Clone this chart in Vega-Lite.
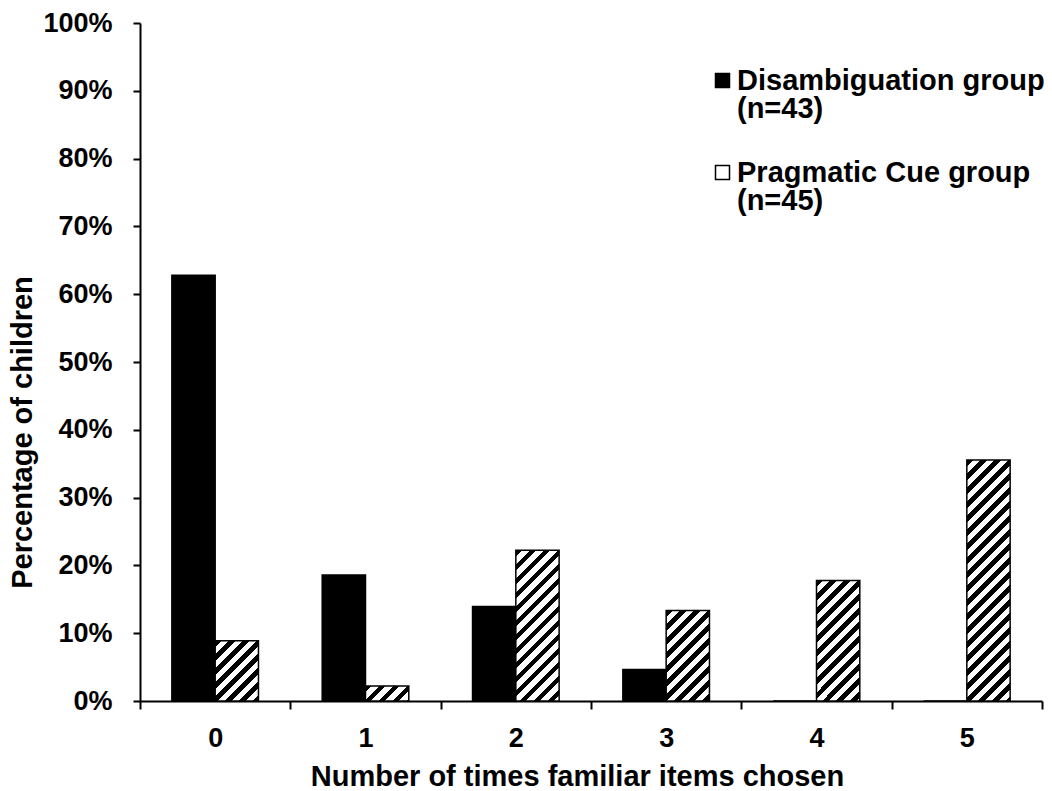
{
  "$schema": "https://vega.github.io/schema/vega-lite/v6.json",
  "width": 902,
  "height": 678,
  "autosize": {"type": "none"},
  "padding": {"left": 140, "top": 23, "right": 10, "bottom": 90},
  "background": "white",
  "config": {"view": {"stroke": null}, "font": "Liberation Sans"},
  "data": {
    "values": [
      {"times": 0, "group": "Disambiguation group (n=43)", "pct": 0.6279},
      {"times": 1, "group": "Disambiguation group (n=43)", "pct": 0.186},
      {"times": 2, "group": "Disambiguation group (n=43)", "pct": 0.1395},
      {"times": 3, "group": "Disambiguation group (n=43)", "pct": 0.0465},
      {"times": 4, "group": "Disambiguation group (n=43)", "pct": 0},
      {"times": 5, "group": "Disambiguation group (n=43)", "pct": 0},
      {"times": 0, "group": "Pragmatic Cue group (n=45)", "pct": 0.0889},
      {"times": 1, "group": "Pragmatic Cue group (n=45)", "pct": 0.0222},
      {"times": 2, "group": "Pragmatic Cue group (n=45)", "pct": 0.2222},
      {"times": 3, "group": "Pragmatic Cue group (n=45)", "pct": 0.1333},
      {"times": 4, "group": "Pragmatic Cue group (n=45)", "pct": 0.1778},
      {"times": 5, "group": "Pragmatic Cue group (n=45)", "pct": 0.3556}
    ]
  },
  "mark": {"type": "bar", "stroke": "#000", "strokeWidth": 1.5},
  "encoding": {
    "x": {
      "field": "times",
      "type": "ordinal",
      "scale": {"paddingInner": 0, "paddingOuter": 0},
      "axis": {
        "labelAngle": 0,
        "labelFontSize": 27,
        "labelFontWeight": "bold",
        "labelColor": "#000",
        "labelPadding": 16,
        "tickBand": "extent",
        "tickSize": 8,
        "tickWidth": 2,
        "tickColor": "#000",
        "domainColor": "#000",
        "domainWidth": 2,
        "title": "Number of times familiar items chosen",
        "titleFontSize": 29,
        "titleFontWeight": "bold",
        "titleColor": "#000",
        "titleX": 437,
        "titleY": 84,
        "titleBaseline": "alphabetic",
        "titleAlign": "center"
      }
    },
    "xOffset": {
      "field": "group",
      "type": "nominal",
      "scale": {"paddingInner": 0, "paddingOuter": 0.736}
    },
    "y": {
      "field": "pct",
      "type": "quantitative",
      "scale": {"domain": [0, 1]},
      "axis": {
        "format": ".0%",
        "tickCount": 10,
        "grid": false,
        "labelFontSize": 27,
        "labelFontWeight": "bold",
        "labelColor": "#000",
        "labelPadding": 21,
        "tickSize": 7,
        "tickWidth": 2,
        "tickColor": "#000",
        "domainColor": "#000",
        "domainWidth": 2,
        "title": "Percentage of children",
        "titleFontSize": 29,
        "titleFontWeight": "bold",
        "titleColor": "#000",
        "titleAngle": -90,
        "titleX": -109,
        "titleY": 409,
        "titleBaseline": "alphabetic",
        "titleAlign": "center"
      }
    },
    "fill": {
      "field": "group",
      "type": "nominal",
      "scale": {"range": ["#000000", "#ffffff"]},
      "legend": {
        "title": null,
        "orient": "none",
        "legendX": 568,
        "legendY": 43,
        "symbolType": "square",
        "symbolSize": 196,
        "symbolStrokeColor": "#000",
        "symbolStrokeWidth": 1.5,
        "symbolOpacity": 1,
        "labelFontSize": 29,
        "labelFontWeight": "bold",
        "labelColor": "#000",
        "labelLimit": 0,
        "labelOffset": 0,
        "rowPadding": 34,
        "labelExpr": "[substring(datum.label, 0, indexof(datum.label, ' (')), substring(datum.label, indexof(datum.label, ' (') + 1)]",
        "encode": {
          "labels": {"update": {"lineHeight": {"value": 28}}},
          "symbols": {
            "update": {
              "stroke": {"value": "#000"},
              "strokeWidth": {"value": 1.5}
            }
          }
        }
      },
      "condition": [
        {"test": "datum.group == 'Pragmatic Cue group (n=45)' && datum.times == 0", "value": {"gradient": "linear", "x1": 0, "y1": 0, "x2": 2.7505, "y2": 3.8278, "stops": [
          {"offset":0,"color":"#000"},{"offset":0.018,"color":"#000"},{"offset":0.018,"color":"#fff"},{"offset":0.04,"color":"#fff"},
          {"offset":0.04,"color":"#000"},{"offset":0.058,"color":"#000"},{"offset":0.058,"color":"#fff"},{"offset":0.08,"color":"#fff"},
          {"offset":0.08,"color":"#000"},{"offset":0.098,"color":"#000"},{"offset":0.098,"color":"#fff"},{"offset":0.12,"color":"#fff"},
          {"offset":0.12,"color":"#000"},{"offset":0.138,"color":"#000"},{"offset":0.138,"color":"#fff"},{"offset":0.16,"color":"#fff"},
          {"offset":0.16,"color":"#000"},{"offset":0.178,"color":"#000"},{"offset":0.178,"color":"#fff"},{"offset":0.2,"color":"#fff"},
          {"offset":0.2,"color":"#000"},{"offset":0.218,"color":"#000"},{"offset":0.218,"color":"#fff"},{"offset":0.24,"color":"#fff"},
          {"offset":0.24,"color":"#000"},{"offset":0.258,"color":"#000"},{"offset":0.258,"color":"#fff"},{"offset":0.28,"color":"#fff"},
          {"offset":0.28,"color":"#000"},{"offset":0.298,"color":"#000"},{"offset":0.298,"color":"#fff"},{"offset":0.32,"color":"#fff"}
        ]}},
        {"test": "datum.group == 'Pragmatic Cue group (n=45)' && datum.times == 1", "value": {"gradient": "linear", "x1": 0, "y1": 0, "x2": 7.206, "y2": 2.506, "stops": [
          {"offset":0,"color":"#000"},{"offset":0.018,"color":"#000"},{"offset":0.018,"color":"#fff"},{"offset":0.04,"color":"#fff"},
          {"offset":0.04,"color":"#000"},{"offset":0.058,"color":"#000"},{"offset":0.058,"color":"#fff"},{"offset":0.08,"color":"#fff"},
          {"offset":0.08,"color":"#000"},{"offset":0.098,"color":"#000"},{"offset":0.098,"color":"#fff"},{"offset":0.12,"color":"#fff"},
          {"offset":0.12,"color":"#000"},{"offset":0.138,"color":"#000"},{"offset":0.138,"color":"#fff"},{"offset":0.16,"color":"#fff"},
          {"offset":0.16,"color":"#000"},{"offset":0.178,"color":"#000"},{"offset":0.178,"color":"#fff"},{"offset":0.2,"color":"#fff"}
        ]}},
        {"test": "datum.group == 'Pragmatic Cue group (n=45)' && datum.times == 2", "value": {"gradient": "linear", "x1": 0, "y1": 0, "x2": 0.6167, "y2": 2.145, "stops": [
          {"offset":0,"color":"#000"},{"offset":0.018,"color":"#000"},{"offset":0.018,"color":"#fff"},{"offset":0.04,"color":"#fff"},
          {"offset":0.04,"color":"#000"},{"offset":0.058,"color":"#000"},{"offset":0.058,"color":"#fff"},{"offset":0.08,"color":"#fff"},
          {"offset":0.08,"color":"#000"},{"offset":0.098,"color":"#000"},{"offset":0.098,"color":"#fff"},{"offset":0.12,"color":"#fff"},
          {"offset":0.12,"color":"#000"},{"offset":0.138,"color":"#000"},{"offset":0.138,"color":"#fff"},{"offset":0.16,"color":"#fff"},
          {"offset":0.16,"color":"#000"},{"offset":0.178,"color":"#000"},{"offset":0.178,"color":"#fff"},{"offset":0.2,"color":"#fff"},
          {"offset":0.2,"color":"#000"},{"offset":0.218,"color":"#000"},{"offset":0.218,"color":"#fff"},{"offset":0.24,"color":"#fff"},
          {"offset":0.24,"color":"#000"},{"offset":0.258,"color":"#000"},{"offset":0.258,"color":"#fff"},{"offset":0.28,"color":"#fff"},
          {"offset":0.28,"color":"#000"},{"offset":0.298,"color":"#000"},{"offset":0.298,"color":"#fff"},{"offset":0.32,"color":"#fff"},
          {"offset":0.32,"color":"#000"},{"offset":0.338,"color":"#000"},{"offset":0.338,"color":"#fff"},{"offset":0.36,"color":"#fff"},
          {"offset":0.36,"color":"#000"},{"offset":0.378,"color":"#000"},{"offset":0.378,"color":"#fff"},{"offset":0.4,"color":"#fff"},
          {"offset":0.4,"color":"#000"},{"offset":0.418,"color":"#000"},{"offset":0.418,"color":"#fff"},{"offset":0.44,"color":"#fff"},
          {"offset":0.44,"color":"#000"},{"offset":0.458,"color":"#000"},{"offset":0.458,"color":"#fff"},{"offset":0.48,"color":"#fff"},
          {"offset":0.48,"color":"#000"},{"offset":0.498,"color":"#000"},{"offset":0.498,"color":"#fff"},{"offset":0.52,"color":"#fff"},
          {"offset":0.52,"color":"#000"},{"offset":0.538,"color":"#000"},{"offset":0.538,"color":"#fff"},{"offset":0.56,"color":"#fff"}
        ]}},
        {"test": "datum.group == 'Pragmatic Cue group (n=45)' && datum.times == 3", "value": {"gradient": "linear", "x1": 0, "y1": 0, "x2": 1.5092, "y2": 3.1487, "stops": [
          {"offset":0,"color":"#000"},{"offset":0.018,"color":"#000"},{"offset":0.018,"color":"#fff"},{"offset":0.04,"color":"#fff"},
          {"offset":0.04,"color":"#000"},{"offset":0.058,"color":"#000"},{"offset":0.058,"color":"#fff"},{"offset":0.08,"color":"#fff"},
          {"offset":0.08,"color":"#000"},{"offset":0.098,"color":"#000"},{"offset":0.098,"color":"#fff"},{"offset":0.12,"color":"#fff"},
          {"offset":0.12,"color":"#000"},{"offset":0.138,"color":"#000"},{"offset":0.138,"color":"#fff"},{"offset":0.16,"color":"#fff"},
          {"offset":0.16,"color":"#000"},{"offset":0.178,"color":"#000"},{"offset":0.178,"color":"#fff"},{"offset":0.2,"color":"#fff"},
          {"offset":0.2,"color":"#000"},{"offset":0.218,"color":"#000"},{"offset":0.218,"color":"#fff"},{"offset":0.24,"color":"#fff"},
          {"offset":0.24,"color":"#000"},{"offset":0.258,"color":"#000"},{"offset":0.258,"color":"#fff"},{"offset":0.28,"color":"#fff"},
          {"offset":0.28,"color":"#000"},{"offset":0.298,"color":"#000"},{"offset":0.298,"color":"#fff"},{"offset":0.32,"color":"#fff"},
          {"offset":0.32,"color":"#000"},{"offset":0.338,"color":"#000"},{"offset":0.338,"color":"#fff"},{"offset":0.36,"color":"#fff"},
          {"offset":0.36,"color":"#000"},{"offset":0.378,"color":"#000"},{"offset":0.378,"color":"#fff"},{"offset":0.4,"color":"#fff"}
        ]}},
        {"test": "datum.group == 'Pragmatic Cue group (n=45)' && datum.times == 4", "value": {"gradient": "linear", "x1": 0, "y1": 0, "x2": 0.9249, "y2": 2.5722, "stops": [
          {"offset":0,"color":"#000"},{"offset":0.018,"color":"#000"},{"offset":0.018,"color":"#fff"},{"offset":0.04,"color":"#fff"},
          {"offset":0.04,"color":"#000"},{"offset":0.058,"color":"#000"},{"offset":0.058,"color":"#fff"},{"offset":0.08,"color":"#fff"},
          {"offset":0.08,"color":"#000"},{"offset":0.098,"color":"#000"},{"offset":0.098,"color":"#fff"},{"offset":0.12,"color":"#fff"},
          {"offset":0.12,"color":"#000"},{"offset":0.138,"color":"#000"},{"offset":0.138,"color":"#fff"},{"offset":0.16,"color":"#fff"},
          {"offset":0.16,"color":"#000"},{"offset":0.178,"color":"#000"},{"offset":0.178,"color":"#fff"},{"offset":0.2,"color":"#fff"},
          {"offset":0.2,"color":"#000"},{"offset":0.218,"color":"#000"},{"offset":0.218,"color":"#fff"},{"offset":0.24,"color":"#fff"},
          {"offset":0.24,"color":"#000"},{"offset":0.258,"color":"#000"},{"offset":0.258,"color":"#fff"},{"offset":0.28,"color":"#fff"},
          {"offset":0.28,"color":"#000"},{"offset":0.298,"color":"#000"},{"offset":0.298,"color":"#fff"},{"offset":0.32,"color":"#fff"},
          {"offset":0.32,"color":"#000"},{"offset":0.338,"color":"#000"},{"offset":0.338,"color":"#fff"},{"offset":0.36,"color":"#fff"},
          {"offset":0.36,"color":"#000"},{"offset":0.378,"color":"#000"},{"offset":0.378,"color":"#fff"},{"offset":0.4,"color":"#fff"},
          {"offset":0.4,"color":"#000"},{"offset":0.418,"color":"#000"},{"offset":0.418,"color":"#fff"},{"offset":0.44,"color":"#fff"},
          {"offset":0.44,"color":"#000"},{"offset":0.458,"color":"#000"},{"offset":0.458,"color":"#fff"},{"offset":0.48,"color":"#fff"}
        ]}},
        {"test": "datum.group == 'Pragmatic Cue group (n=45)' && datum.times == 5", "value": {"gradient": "linear", "x1": 0, "y1": 0, "x2": 0.25274, "y2": 1.4063, "stops": [
          {"offset":0,"color":"#000"},{"offset":0.018,"color":"#000"},{"offset":0.018,"color":"#fff"},{"offset":0.04,"color":"#fff"},
          {"offset":0.04,"color":"#000"},{"offset":0.058,"color":"#000"},{"offset":0.058,"color":"#fff"},{"offset":0.08,"color":"#fff"},
          {"offset":0.08,"color":"#000"},{"offset":0.098,"color":"#000"},{"offset":0.098,"color":"#fff"},{"offset":0.12,"color":"#fff"},
          {"offset":0.12,"color":"#000"},{"offset":0.138,"color":"#000"},{"offset":0.138,"color":"#fff"},{"offset":0.16,"color":"#fff"},
          {"offset":0.16,"color":"#000"},{"offset":0.178,"color":"#000"},{"offset":0.178,"color":"#fff"},{"offset":0.2,"color":"#fff"},
          {"offset":0.2,"color":"#000"},{"offset":0.218,"color":"#000"},{"offset":0.218,"color":"#fff"},{"offset":0.24,"color":"#fff"},
          {"offset":0.24,"color":"#000"},{"offset":0.258,"color":"#000"},{"offset":0.258,"color":"#fff"},{"offset":0.28,"color":"#fff"},
          {"offset":0.28,"color":"#000"},{"offset":0.298,"color":"#000"},{"offset":0.298,"color":"#fff"},{"offset":0.32,"color":"#fff"},
          {"offset":0.32,"color":"#000"},{"offset":0.338,"color":"#000"},{"offset":0.338,"color":"#fff"},{"offset":0.36,"color":"#fff"},
          {"offset":0.36,"color":"#000"},{"offset":0.378,"color":"#000"},{"offset":0.378,"color":"#fff"},{"offset":0.4,"color":"#fff"},
          {"offset":0.4,"color":"#000"},{"offset":0.418,"color":"#000"},{"offset":0.418,"color":"#fff"},{"offset":0.44,"color":"#fff"},
          {"offset":0.44,"color":"#000"},{"offset":0.458,"color":"#000"},{"offset":0.458,"color":"#fff"},{"offset":0.48,"color":"#fff"},
          {"offset":0.48,"color":"#000"},{"offset":0.498,"color":"#000"},{"offset":0.498,"color":"#fff"},{"offset":0.52,"color":"#fff"},
          {"offset":0.52,"color":"#000"},{"offset":0.538,"color":"#000"},{"offset":0.538,"color":"#fff"},{"offset":0.56,"color":"#fff"},
          {"offset":0.56,"color":"#000"},{"offset":0.578,"color":"#000"},{"offset":0.578,"color":"#fff"},{"offset":0.6,"color":"#fff"},
          {"offset":0.6,"color":"#000"},{"offset":0.618,"color":"#000"},{"offset":0.618,"color":"#fff"},{"offset":0.64,"color":"#fff"},
          {"offset":0.64,"color":"#000"},{"offset":0.658,"color":"#000"},{"offset":0.658,"color":"#fff"},{"offset":0.68,"color":"#fff"},
          {"offset":0.68,"color":"#000"},{"offset":0.698,"color":"#000"},{"offset":0.698,"color":"#fff"},{"offset":0.72,"color":"#fff"},
          {"offset":0.72,"color":"#000"},{"offset":0.738,"color":"#000"},{"offset":0.738,"color":"#fff"},{"offset":0.76,"color":"#fff"},
          {"offset":0.76,"color":"#000"},{"offset":0.778,"color":"#000"},{"offset":0.778,"color":"#fff"},{"offset":0.8,"color":"#fff"},
          {"offset":0.8,"color":"#000"},{"offset":0.818,"color":"#000"},{"offset":0.818,"color":"#fff"},{"offset":0.84,"color":"#fff"}
        ]}}
      ]
    }
  }
}
